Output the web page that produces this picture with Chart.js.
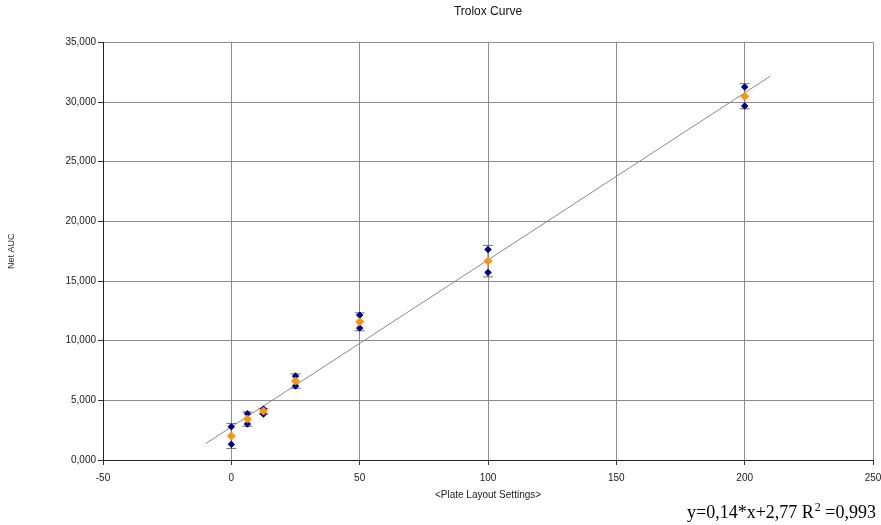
<!DOCTYPE html>
<html lang="en">
<head>
  <meta charset="UTF-8" />
  <title>Trolox Curve</title>
  <script src="https://cdn.jsdelivr.net/npm/chart.js"></script>
  <style>
    body { margin: 0; background: #fff; }
    .wrap { width: 881px; height: 525px; }
  </style>
</head>
<body>
<div class="wrap"><canvas id="troloxChart" width="881" height="525"></canvas></div>
<script>
  // concentrations and read-off values
  const conc = [0, 6.25, 12.5, 25, 50, 100, 200];
  const rep1 = [2790, 3890, 4270, 7035, 12144, 17646, 31265];
  const rep2 = [1315, 3015, 3850, 6197, 11055, 15720, 29673];
  const means = [2010, 3430, 4100, 6616, 11583, 16667, 30486];
  const sd = [1040, 600, 230, 600, 750, 1320, 1050];
  const fitX = [-10, 210];
  const fitY = [1370, 32170];
  const xTicks = [-50, 0, 50, 100, 150, 200, 250];
  const equation = ["y=0,14*x+2,77 R", "2", " =0,993"];

  const fontFam = '"Liberation Sans", Arial, sans-serif';

  const toPts = (xs, ys) => xs.map((x, i) => ({ x: x, y: ys[i] }));

  const errorBars = {
    id: 'errorBars',
    beforeDatasetsDraw(chart) {
      const { ctx, scales } = chart;
      ctx.save();
      ctx.strokeStyle = '#707070';
      ctx.lineWidth = 1;
      conc.forEach((c, i) => {
        const px = scales.x.getPixelForValue(c);
        const top = scales.y.getPixelForValue(means[i] + sd[i]);
        const bot = scales.y.getPixelForValue(means[i] - sd[i]);
        ctx.beginPath();
        ctx.moveTo(px, top); ctx.lineTo(px, bot);
        ctx.moveTo(px - 5, top); ctx.lineTo(px + 5, top);
        ctx.moveTo(px - 5, bot); ctx.lineTo(px + 5, bot);
        ctx.stroke();
      });
      ctx.restore();
    },
    afterDraw(chart) {
      const ctx = chart.ctx;
      ctx.save();
      ctx.fillStyle = '#000';
      ctx.textBaseline = 'alphabetic';
      let x = 687;
      const y = 518;
      ctx.font = '18px "Liberation Serif", "Times New Roman", serif';
      ctx.fillText(equation[0], x, y);
      x += ctx.measureText(equation[0]).width + 1;
      ctx.font = '12px "Liberation Serif", "Times New Roman", serif';
      ctx.fillText(equation[1], x, y - 7);
      x += ctx.measureText(equation[1]).width;
      ctx.font = '18px "Liberation Serif", "Times New Roman", serif';
      ctx.fillText(equation[2], x, y);
      ctx.restore();
    }
  };

  const chart = new Chart(document.getElementById('troloxChart'), {
    type: 'scatter',
    data: {
      datasets: [
        {
          label: 'Fit',
          type: 'line',
          data: toPts(fitX, fitY),
          borderColor: '#8a8a8a',
          borderWidth: 1,
          pointRadius: 0,
          order: 3
        },
        {
          label: 'Rep 1',
          data: toPts(conc, rep1),
          pointStyle: 'rectRot',
          pointRadius: 3.2,
          backgroundColor: '#00008b',
          borderColor: '#00008b',
          order: 2
        },
        {
          label: 'Rep 2',
          data: toPts(conc, rep2),
          pointStyle: 'rectRot',
          pointRadius: 3.2,
          backgroundColor: '#00008b',
          borderColor: '#00008b',
          order: 2
        },
        {
          label: 'Mean',
          data: toPts(conc, means),
          pointStyle: 'rectRot',
          pointRadius: 4,
          backgroundColor: '#ff9410',
          borderColor: '#ff9410',
          order: 1
        }
      ]
    },
    options: {
      responsive: false,
      animation: false,
      layout: { padding: { left: 0, right: 8, top: 0, bottom: 0 } },
      plugins: {
        legend: { display: false },
        tooltip: { enabled: false },
        title: {
          display: true,
          fullSize: false,
          text: 'Trolox Curve',
          color: '#111',
          font: { family: fontFam, size: 12, weight: 'normal' },
          padding: { top: 4, bottom: 24 }
        }
      },
      scales: {
        x: {
          type: 'linear',
          min: -50,
          max: 250,
          afterBuildTicks: s => { s.ticks = xTicks.map(v => ({ value: v })); },
          afterFit: s => { s.height = 65; s.paddingLeft = 0; s.paddingRight = 0; },
          grid: { color: '#8c8c8c', tickLength: 5, tickColor: '#333' },
          border: { color: '#222', width: 1 },
          ticks: { color: '#222', font: { family: fontFam, size: 10 }, padding: 7 },
          title: {
            display: true,
            text: '<Plate Layout Settings>',
            color: '#222',
            font: { family: fontFam, size: 10 },
            padding: { top: 6, bottom: 24 }
          }
        },
        y: {
          min: 0,
          max: 35000,
          afterFit: s => { s.width = 103; },
          grid: { color: '#8c8c8c', tickLength: 5, tickColor: '#333' },
          border: { color: '#222', width: 1 },
          ticks: {
            stepSize: 5000,
            color: '#222',
            font: { family: fontFam, size: 10 },
            padding: 2,
            callback: v => v === 0 ? '0,000' : v.toLocaleString('en-US')
          },
          title: {
            display: true,
            text: 'Net AUC',
            color: '#222',
            font: { family: fontFam, size: 9 },
            padding: { top: 6, bottom: 0 }
          }
        }
      }
    },
    plugins: [errorBars]
  });
</script>
</body>
</html>
